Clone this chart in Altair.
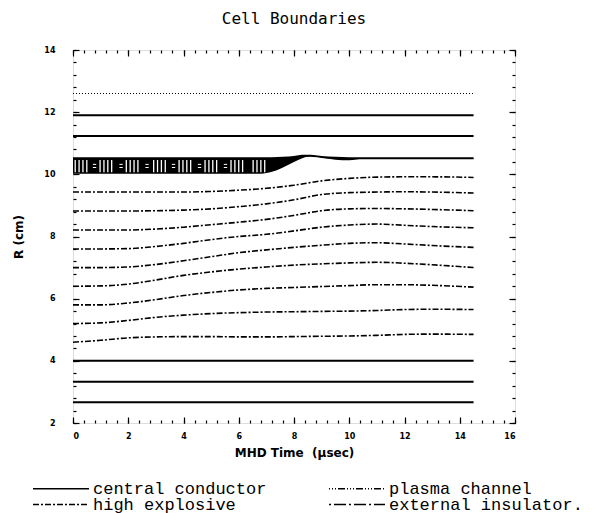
import altair as alt
import pandas as pd

# ---------------- data ----------------
T = [0, 1, 2, 3, 4, 5, 6, 7, 8, 9, 10, 11, 12, 13, 14.5]
he_lines = [
    [4.60, 4.66, 4.74, 4.77, 4.78, 4.78, 4.77, 4.77, 4.78, 4.79, 4.80, 4.82, 4.85, 4.86, 4.85],
    [5.20, 5.22, 5.30, 5.40, 5.47, 5.52, 5.55, 5.57, 5.58, 5.59, 5.60, 5.62, 5.65, 5.66, 5.65],
    [5.80, 5.80, 5.86, 5.97, 6.10, 6.20, 6.28, 6.33, 6.36, 6.39, 6.42, 6.45, 6.45, 6.43, 6.37],
    [6.40, 6.41, 6.47, 6.60, 6.75, 6.86, 6.95, 7.02, 7.08, 7.12, 7.15, 7.17, 7.14, 7.09, 7.00],
    [7.00, 7.00, 7.02, 7.10, 7.22, 7.35, 7.48, 7.57, 7.65, 7.72, 7.78, 7.80, 7.76, 7.71, 7.65],
    [7.60, 7.60, 7.61, 7.68, 7.78, 7.90, 8.00, 8.07, 8.18, 8.30, 8.37, 8.40, 8.36, 8.32, 8.28],
    [8.21, 8.21, 8.21, 8.24, 8.30, 8.38, 8.46, 8.55, 8.68, 8.83, 8.89, 8.90, 8.89, 8.87, 8.83],
    [8.82, 8.82, 8.82, 8.83, 8.85, 8.89, 8.96, 9.05, 9.18, 9.35, 9.41, 9.43, 9.44, 9.43, 9.40],
    [9.43, 9.43, 9.43, 9.43, 9.43, 9.45, 9.49, 9.55, 9.65, 9.79, 9.87, 9.91, 9.92, 9.92, 9.90],
]
t_end = 14.5
conductor_r = [2.67, 3.33, 4.0, 11.23, 11.9]
dotted_r = [12.6]

band_t = [0, 6.8, 7.2, 7.6, 8.0, 8.3, 8.6, 9.0, 9.5, 10.0, 10.5, 14.5]
band_top = [10.52, 10.52, 10.52, 10.53, 10.56, 10.60, 10.60, 10.56, 10.53, 10.52, 10.52, 10.52]
band_bot = [10.02, 10.02, 10.08, 10.22, 10.40, 10.52, 10.58, 10.53, 10.47, 10.45, 10.50, 10.50]

# hatch texture inside the band (group starts, stripe step)
hatch_groups = [0.08, 0.98, 1.93, 2.92, 3.84, 4.78, 5.72, 6.52]
hatch_eq = [0.72, 1.68, 2.62, 3.58, 4.52, 5.46]
hatch_lo, hatch_hi = 10.07, 10.46

# legend order (column-major fill: col 1 then col 2)
kinds = ["central conductor", "high explosive", "plasma channel", "external insulator."]
dashes = [[1, 0], [6, 2, 2, 2], [1, 2, 1, 2, 1, 2, 7, 2], [2, 3, 12, 3]]

x_major = [0, 2, 4, 6, 8, 10, 12, 14, 16]
y_major = [2, 4, 6, 8, 10, 12, 14]
x_minor = [round(i * 0.4, 2) for i in range(41)]
y_minor = [round(2 + i * 0.4, 2) for i in range(31)]

# ---------------- build tables ----------------
rows = []
for i, ys in enumerate(he_lines):
    for t, r in zip(T, ys):
        rows.append({"t": t, "r": r, "id": f"he{i}", "kind": "high explosive", "w": 1.6})
for i, r in enumerate(conductor_r):
    for t in (0, t_end):
        rows.append({"t": t, "r": r, "id": f"cc{i}", "kind": "central conductor", "w": 2.0})
lines_df = pd.DataFrame(rows)

dotted_df = pd.DataFrame([{"t": t, "r": r, "id": f"d{i}"} for i, r in enumerate(dotted_r) for t in (0, t_end)])

band_df = pd.DataFrame({"t": band_t, "top": band_top, "bot": band_bot})

stripes = []
for g in hatch_groups:
    for k in range(4):
        stripes.append({"t": g + k * 0.14, "lo": hatch_lo, "hi": hatch_hi})
stripes_df = pd.DataFrame(stripes)
eq_rows = []
for e in hatch_eq:
    eq_rows.append({"t": e, "t2": e + 0.12, "r": 10.22})
    eq_rows.append({"t": e, "t2": e + 0.12, "r": 10.32})
eq_df = pd.DataFrame(eq_rows)

dummy = pd.DataFrame({"t": [0], "r": [2]})

XS = alt.Scale(domain=[0, 16], nice=False, zero=False)
YS = alt.Scale(domain=[2, 14], nice=False, zero=False)
LBL = dict(labelFont="DejaVu Sans", labelFontSize=8, labelFontWeight="bold", labelColor="black")

# ---------------- layers ----------------
band = alt.Chart(band_df).mark_area(color="black", interpolate="monotone").encode(
    x=alt.X("t:Q", scale=XS, axis=alt.Axis(values=x_major, ticks=False, domain=False, grid=False,
                                           labelPadding=9, title="MHD Time\u00a0 (\u03bcsec)",
                                           titleFont="DejaVu Sans", titleFontSize=12, titleFontWeight="bold",
                                           titlePadding=7, titleColor="black", **LBL)),
    y=alt.Y("top:Q", scale=YS, axis=alt.Axis(values=y_major, ticks=False, domain=False, grid=False,
                                             labelPadding=18, title="R (cm)",
                                             titleFont="DejaVu Sans", titleFontSize=12, titleFontWeight="bold",
                                             titlePadding=18, titleColor="black", **LBL)),
    y2="bot:Q",
)

hatch = alt.Chart(stripes_df).mark_rule(color="white", strokeWidth=1.3).encode(
    x=alt.X("t:Q", scale=XS, axis=None), y=alt.Y("lo:Q", scale=YS, axis=None), y2="hi:Q"
)
hatch_eq_layer = alt.Chart(eq_df).mark_rule(color="white", strokeWidth=1).encode(
    x=alt.X("t:Q", scale=XS, axis=None), x2="t2:Q", y=alt.Y("r:Q", scale=YS, axis=None)
)
band_edge = alt.Chart(band_df).mark_line(color="black", strokeWidth=2, interpolate="monotone").encode(
    x=alt.X("t:Q", scale=XS, axis=None), y=alt.Y("top:Q", scale=YS, axis=None)
)

dotted = alt.Chart(dotted_df).mark_line(color="black", strokeWidth=1.1, strokeDash=[1, 2]).encode(
    x=alt.X("t:Q", scale=XS, axis=None), y=alt.Y("r:Q", scale=YS, axis=None), detail="id:N"
)

lines = alt.Chart(lines_df).mark_line(color="black", interpolate="monotone").encode(
    x=alt.X("t:Q", scale=XS, axis=None),
    y=alt.Y("r:Q", scale=YS, axis=None),
    detail="id:N",
    strokeWidth=alt.StrokeWidth("w:Q", scale=None),
    strokeDash=alt.StrokeDash(
        "kind:N",
        scale=alt.Scale(domain=kinds, range=dashes),
        legend=alt.Legend(orient="none", legendX=-41, legendY=431, columns=2, title=None,
                          symbolType="stroke", symbolSize=3136, symbolStrokeWidth=1.5,
                          symbolStrokeColor="black", labelFont="Liberation Mono", labelFontSize=17,
                          labelColor="black", labelOffset=3, columnPadding=61, rowPadding=-3,
                          clipHeight=15, padding=0, labelLimit=400),
    ),
)


def tick_layer(orient_x, orient_y, xv, yv, size):
    return alt.Chart(dummy).mark_point(opacity=0).encode(
        x=alt.X("t:Q", scale=XS, axis=alt.Axis(orient=orient_x, values=xv, tickSize=size, offset=-size,
                                               labels=False, domain=False, grid=False, title="",
                                               tickColor="black", tickWidth=1.2)),
        y=alt.Y("r:Q", scale=YS, axis=alt.Axis(orient=orient_y, values=yv, tickSize=size, offset=-size,
                                               labels=False, domain=False, grid=False, title="",
                                               tickColor="black", tickWidth=1.2)),
    )


t1 = tick_layer("bottom", "left", x_major, y_major, 6)
t2 = tick_layer("bottom", "left", x_minor, y_minor, 3)
t3 = tick_layer("top", "right", x_major, y_major, 6)
t4 = tick_layer("top", "right", x_minor, y_minor, 3)

chart = alt.layer(band, hatch, hatch_eq_layer, band_edge, dotted, lines, t1, t2, t3, t4).resolve_axis(
    x="independent", y="independent"
).properties(
    width=442,
    height=373,
    autosize=alt.AutoSizeParams(type="none"),
    padding={"left": 65, "top": 42, "right": 92, "bottom": 98},
    title=alt.TitleParams("Cell Boundaries", font="DejaVu Sans Mono", fontSize=16, fontWeight="normal",
                          anchor="middle", offset=19, color="black"),
).configure_view(stroke="black", strokeWidth=2).configure(background="white")

chart.save("out.html", embed_options={"renderer": "svg", "actions": False})
